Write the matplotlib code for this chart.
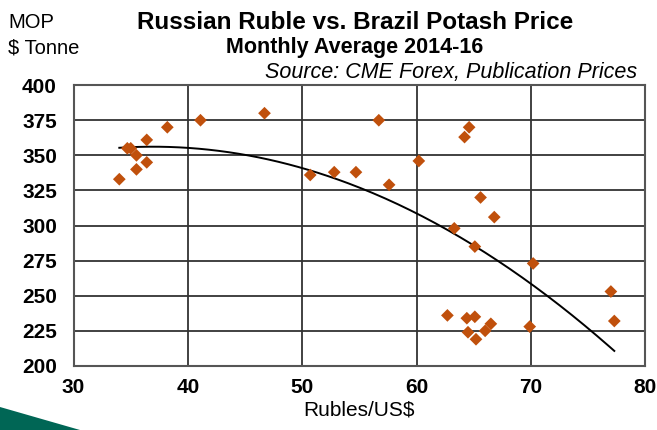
import numpy as np
import matplotlib.pyplot as plt
from matplotlib.patches import Polygon

# monthly averages 2014-16
rubles = [34.0, 34.7, 35.0, 35.5, 35.5, 36.4, 36.4, 38.2, 41.1, 46.7,
          50.7, 52.8, 54.7, 56.7, 57.6, 60.2, 64.2, 64.6, 65.6, 66.8,
          63.3, 65.1, 70.2, 77.0, 77.3, 62.7, 64.4, 65.1, 66.5, 66.0,
          64.5, 65.2, 69.9]
potash = [333, 355, 355, 350, 340, 345, 361, 370, 375, 380,
          336, 338, 338, 375, 329, 346, 363, 370, 320, 306,
          298, 285, 273, 253, 232, 236, 234, 235, 230, 225,
          224, 219, 228]

xticks = [30, 40, 50, 60, 70, 80]
yticks = [200, 225, 250, 275, 300, 325, 350, 375, 400]

plt.rcParams["font.family"] = ["Liberation Sans", "DejaVu Sans"]

fig = plt.figure(figsize=(6.57, 4.30), dpi=100)
ax = fig.add_axes([0.112, 0.149, 0.870, 0.653])

# quadratic trend line, as the spreadsheet draws it
coef = np.polyfit(rubles, potash, 2)
xs = np.linspace(min(rubles), max(rubles), 200)
ax.plot(xs, np.polyval(coef, xs), color="black", lw=1.4, zorder=2)

ax.scatter(rubles, potash, marker="D", s=42, color="#C0500C",
           edgecolors="none", zorder=3)

ax.set_xlim(30, 80)
ax.set_ylim(200, 400)
ax.set_xticks(xticks)
ax.set_yticks(yticks)
ax.grid(True, color="#333333", lw=1.3)
ax.set_axisbelow(True)
for s in ax.spines.values():
    s.set_color("#555555")
    s.set_linewidth(1.5)
ax.tick_params(axis="y", length=0, pad=12, labelsize=15)
ax.tick_params(axis="x", length=0, pad=9, labelsize=15)
for lab in ax.get_xticklabels() + ax.get_yticklabels():
    lab.set_fontweight("bold")

ax.set_xlabel("Rubles/US$", fontsize=15, labelpad=2)

fig.text(0.54, 0.948, "Russian Ruble vs. Brazil Potash Price",
         ha="center", va="center", fontsize=17.5, fontweight="bold")
fig.text(0.54, 0.889, "Monthly Average 2014-16",
         ha="center", va="center", fontsize=15.5, fontweight="bold")
fig.text(0.97, 0.832, "Source: CME Forex, Publication Prices",
         ha="right", va="center", fontsize=15.5, style="italic")
fig.text(0.012, 0.948, "MOP", ha="left", va="center", fontsize=14.5)
fig.text(0.012, 0.889, "$ Tonne", ha="left", va="center", fontsize=14.5)

# slide decoration in the lower left corner
fig.patches.append(Polygon([(0, 0), (0, 23 / 430), (80 / 657, 0)],
                           closed=True, transform=fig.transFigure,
                           facecolor="#006655", edgecolor="none"))

fig.savefig("out.png", dpi=100)
